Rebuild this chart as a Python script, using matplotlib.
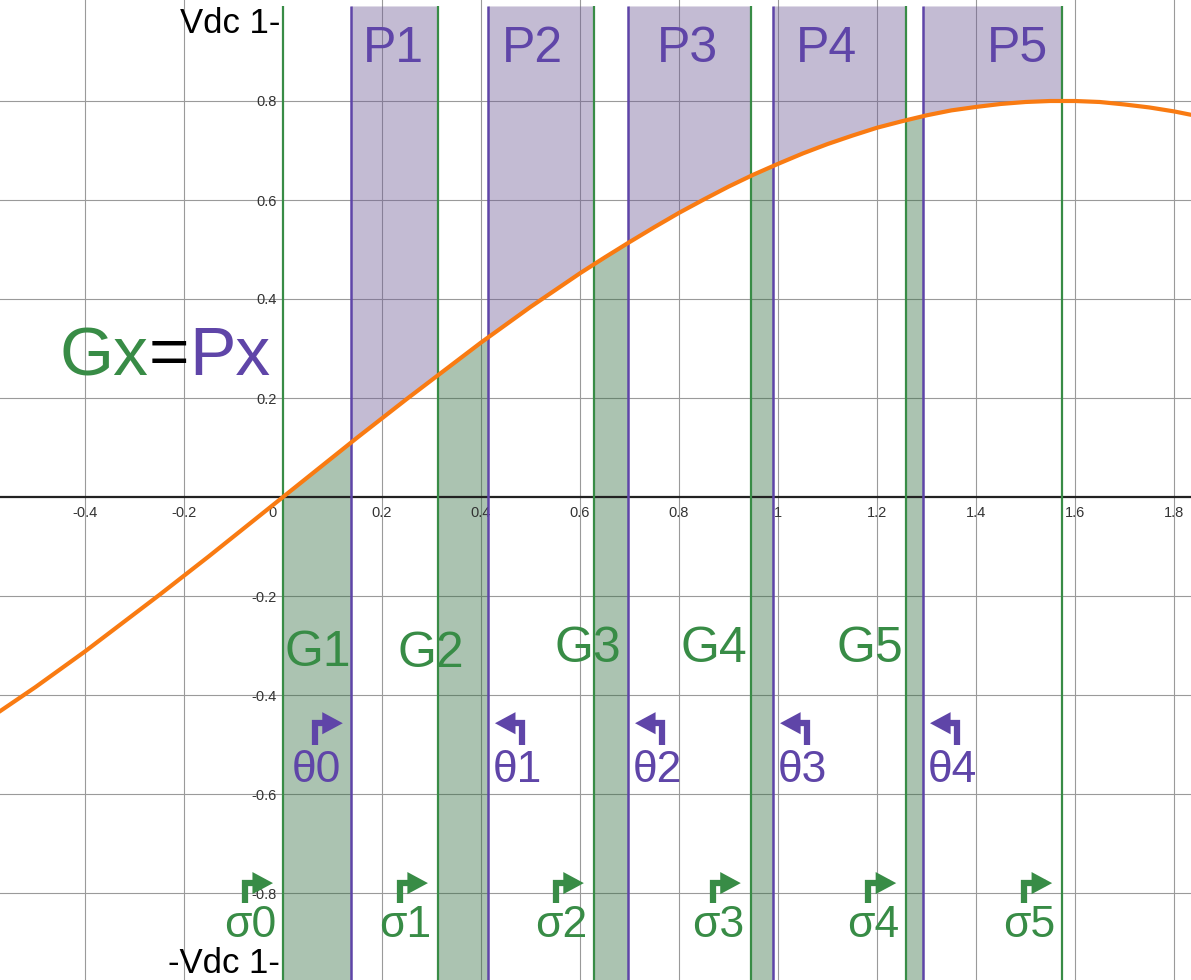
import matplotlib.pyplot as plt
import numpy as np

plt.rcParams['font.family'] = ['Liberation Sans', 'DejaVu Sans']

# orange curve (peak 0.8 near x = 1.57)
curve_x = [-0.60, -0.55, -0.50, -0.45, -0.40, -0.35, -0.30, -0.25, -0.20, -0.15,
           -0.10, -0.05, 0.00, 0.05, 0.10, 0.15, 0.20, 0.25, 0.30, 0.35,
           0.40, 0.45, 0.50, 0.55, 0.60, 0.65, 0.70, 0.75, 0.80, 0.85,
           0.90, 0.95, 1.00, 1.05, 1.10, 1.15, 1.20, 1.25, 1.30, 1.35,
           1.40, 1.45, 1.50, 1.55, 1.60, 1.65, 1.70, 1.75, 1.80, 1.85]
curve_y = [-0.452, -0.418, -0.384, -0.348, -0.312, -0.274, -0.236, -0.198, -0.159, -0.120,
           -0.080, -0.040, 0.000, 0.040, 0.080, 0.120, 0.159, 0.198, 0.236, 0.274,
           0.312, 0.348, 0.384, 0.418, 0.452, 0.484, 0.515, 0.545, 0.574, 0.601,
           0.627, 0.651, 0.673, 0.694, 0.713, 0.730, 0.746, 0.759, 0.771, 0.781,
           0.788, 0.794, 0.798, 0.800, 0.800, 0.798, 0.793, 0.787, 0.779, 0.769]

# switching instants
sigma_x = [0.0, 0.313, 0.628, 0.945, 1.259, 1.574]   # green lines
theta_x = [0.137, 0.414, 0.697, 0.990, 1.293]        # purple lines

p_labels = ['P1', 'P2', 'P3', 'P4', 'P5']
g_labels = ['G1', 'G2', 'G3', 'G4', 'G5']
theta_labels = ['θ0', 'θ1', 'θ2', 'θ3', 'θ4']
sigma_labels = ['σ0', 'σ1', 'σ2', 'σ3', 'σ4', 'σ5']

x_ticks = [-0.4, -0.2, 0.2, 0.4, 0.6, 0.8, 1.0, 1.2, 1.4, 1.6, 1.8]
x_tick_labels = ['-0.4', '-0.2', '0.2', '0.4', '0.6', '0.8', '1', '1.2', '1.4', '1.6', '1.8']
y_ticks = [0.8, 0.6, 0.4, 0.2, -0.2, -0.4, -0.6, -0.8]
y_tick_labels = ['0.8', '0.6', '0.4', '0.2', '-0.2', '-0.4', '-0.6', '-0.8']

GREEN = '#388c46'
PURPLE = '#5f45a8'
ORANGE = '#f97b12'
PX = 1 / 495.0  # one pixel in data units

fig = plt.figure(figsize=(11.91, 9.8), dpi=100)
ax = fig.add_axes([0, 0, 1, 1])
ax.set_xlim(-283 * PX, 908 * PX)
ax.set_ylim(-483 * PX, 497 * PX)
for s in ax.spines.values():
    s.set_visible(False)
ax.set_xticks(x_ticks)
ax.set_yticks(y_ticks)
ax.tick_params(length=0, labelbottom=False, labelleft=False)
ax.grid(True, color='#9a9a9a', lw=0.8, zorder=0)
ax.set_axisbelow(True)

# axis line and tick labels
ax.axhline(0, color='#222222', lw=1.6, zorder=3)
for xv, lab in zip(x_ticks, x_tick_labels):
    ax.text(xv, -0.040, lab, fontsize=10.5, color='#333333', ha='center', va='baseline')
ax.text(-6 * PX, -0.040, '0', fontsize=10.5, color='#333333', ha='right', va='baseline')
for yv, lab in zip(y_ticks, y_tick_labels):
    ax.text(-6 * PX, yv, lab, fontsize=10.5, color='#333333', ha='right', va='center_baseline')

cx = np.array(curve_x)
cy = np.array(curve_y)


def band(a, b):
    inside = (cx > a) & (cx < b)
    xs = np.concatenate([[a], cx[inside], [b]])
    return xs, np.interp(xs, cx, cy)


top = 0.992
for i in range(5):
    xs, ys = band(theta_x[i], sigma_x[i + 1])
    ax.fill_between(xs, ys, top, color='#6b5793', alpha=0.4, lw=0, zorder=1)
    xs, ys = band(sigma_x[i], theta_x[i])
    ax.fill_between(xs, -1.1, ys, color='#2d693c', alpha=0.4, lw=0, zorder=1)

ax.vlines(sigma_x, -1.1, top, color=GREEN, lw=1.6, zorder=4)
ax.vlines(theta_x, -1.1, top, color=PURPLE, lw=1.8, zorder=4)
ax.plot(cx, cy, color=ORANGE, lw=3, zorder=5, solid_capstyle='butt')

# big labels
p_pos = [0.224, 0.503, 0.818, 1.097, 1.483]
for xv, lab in zip(p_pos, p_labels):
    ax.text(xv, 0.879, lab, fontsize=36, color=PURPLE, ha='center', va='baseline', zorder=6)
g_pos = [0.071, 0.299, 0.616, 0.871, 1.186]
g_base = [-0.341, -0.343, -0.333, -0.333, -0.333]
for xv, yv, lab in zip(g_pos, g_base, g_labels):
    ax.text(xv, yv, lab, fontsize=36, color=GREEN, ha='center', va='baseline', zorder=6)

ax.text(-3 * PX, 0.937, 'Vdc 1-', fontsize=25, color='black', ha='right', va='baseline')
ax.text(-3 * PX, -0.962, '-Vdc 1-', fontsize=25, color='black', ha='right', va='baseline')

t3 = ax.text(-13 * PX, 0.246, 'Px', fontsize=50, color=PURPLE, ha='right', va='baseline')
t2 = ax.annotate('=', xy=(0, 0), xycoords=t3, fontsize=50, color='black', ha='right', va='bottom')
ax.annotate('Gx', xy=(0, 0), xycoords=t2, fontsize=50, color=GREEN, ha='right', va='bottom')


def bent_arrow(x_stem, x_tip, y_bot, y_top, color):
    ax.annotate('', xy=(x_tip, y_top), xytext=(x_stem, y_bot),
                arrowprops=dict(arrowstyle='-|>,head_length=0.65,head_width=0.35',
                                connectionstyle='angle,angleA=90,angleB=0,rad=0',
                                color=color, lw=4.5, shrinkA=0, shrinkB=0,
                                joinstyle='miter', capstyle='butt', mutation_scale=12),
                zorder=6)


# theta markers
for i, lab in enumerate(theta_labels):
    xl = theta_x[i]
    if i == 0:
        bent_arrow(xl - 36 * PX, xl - 8 * PX, -0.500, -0.457, PURPLE)
        ax.text(xl - 34 * PX, -0.576, lab, fontsize=32, color=PURPLE, ha='center', va='baseline', zorder=6)
    else:
        bent_arrow(xl + 34 * PX, xl + 7 * PX, -0.500, -0.457, PURPLE)
        ax.text(xl + 29 * PX, -0.576, lab, fontsize=32, color=PURPLE, ha='center', va='baseline', zorder=6)

# sigma markers
for i, lab in enumerate(sigma_labels):
    xl = sigma_x[i]
    bent_arrow(xl - 38 * PX, xl - 10 * PX, -0.820, -0.780, GREEN)
    ax.text(xl - 33 * PX, -0.889, lab, fontsize=32, color=GREEN, ha='center', va='baseline', zorder=6)

fig.savefig('out.png', dpi=100)
